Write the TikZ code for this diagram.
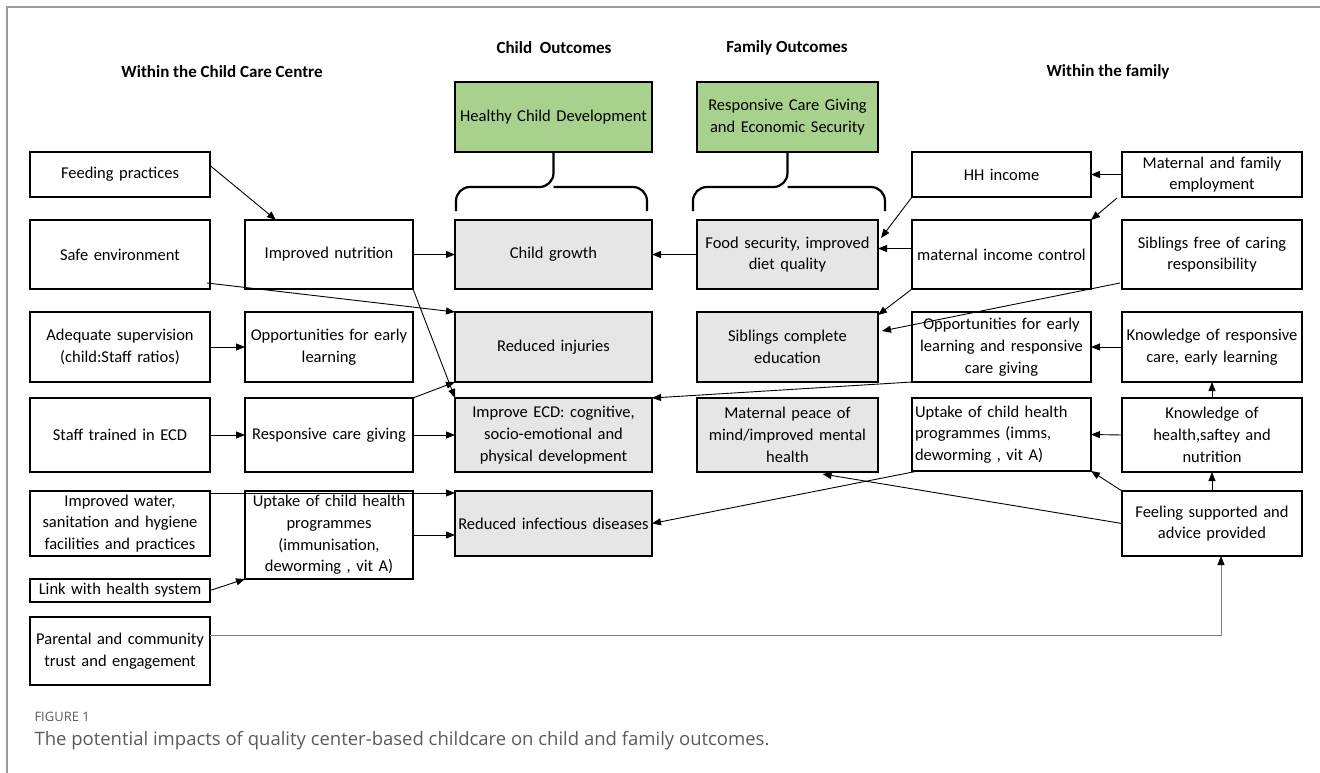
\documentclass[tikz,border=0pt]{standalone}
\usepackage{fontspec}
\setmainfont{Carlito}
\newfontfamily\capfont{Open Sans}
\usepackage{tikz}
\usetikzlibrary{
  	positioning,
  	arrows.meta,
  	calc
  }
\definecolor{outgray}{HTML}{E7E6E6}
\definecolor{outgreen}{HTML}{A9D18E}
\definecolor{framegray}{HTML}{9A9A9A}
\definecolor{linegray}{HTML}{808080}
\definecolor{capgray}{HTML}{5A5A5A}

\begin{document}
\begin{tikzpicture}[x=1pt, y=-1pt,
	box/.style={draw, line width=1.4pt, outer sep=0pt, inner xsep=3pt, inner ysep=1pt, align=center, font=\fontsize{16.5}{21.7}\selectfont},
	wA/.style={box, text width=174pt},
	wB/.style={box, text width=162pt},
	wC/.style={box, text width=191pt, fill=outgray},
	wD/.style={box, text width=175pt, fill=outgray},
	wE/.style={box, text width=173pt},
	wF/.style={box, text width=174pt},
	goal/.style={fill=outgreen},
	head/.style={font=\fontsize{17}{20}\selectfont\bfseries},
	link/.style={-{Triangle[length=9pt,width=7pt]}, line width=0.9pt},
	brace/.style={line width=2.2pt, rounded corners=14pt}]
	\useasboundingbox (0,0) rectangle (1320,773);
	\draw[framegray, line width=1.5pt] (7,773) -- (7,7) -- (1320,7);
%
	\node[head] (Hcentre) at (222,72) {Within the Child Care Centre};
	\node[head] (Hchild) at (554,48) {Child\ \ Outcomes};
	\node[head] (Hfamily) at (787,48) {Family Outcomes};
	\node[head] (Hhome) at (1108,72) {Within the family};
%
	\node[wA, minimum height=69pt] (A2) at (120,254.5) {Safe environment};
	\node[wA, minimum height=45pt, above=23pt of A2] (A1) {Feeding practices};
	\node[wA, minimum height=70pt, below=23pt of A2] (A3) {Adequate supervision\\(child:Staff ratios)};
	\node[wA, minimum height=74pt, below=16pt of A3] (A4) {Staff trained in ECD};
	\node[wA, minimum height=65pt, below=19pt of A4] (A5) {Improved water,\\sanitation and hygiene\\facilities and practices};
	\node[wA, minimum height=23pt, below=23pt of A5] (A6) {Link with health system};
	\node[wA, minimum height=68pt, below=15pt of A6] (A7) {Parental and community\\trust and engagement};
%
	\node[wB, minimum height=69pt, right=35pt of A2] (B1) {Improved nutrition};
	\node[wB, minimum height=70pt, below=23pt of B1] (B2) {Opportunities for early\\learning};
	\node[wB, minimum height=74pt, below=16pt of B2] (B3) {Responsive care giving};
	\node[wB, minimum height=88pt, below=19pt of B3] (B4) {Uptake of child health\\programmes\\(immunisation,\\deworming , vit A)};
%
	\node[wC, minimum height=69pt, right=42pt of B1] (C1) {Child growth};
	\node[wC, minimum height=70pt, below=23pt of C1] (C2) {Reduced injuries};
	\node[wC, minimum height=74pt, below=16pt of C2] (C3) {Improve ECD: cognitive,\\socio-emotional and\\physical development};
	\node[wC, minimum height=65pt, below=19pt of C3] (C4) {Reduced infectious diseases};
	\node[wC, goal, minimum height=70pt, above=68pt of C1] (G1) {Healthy Child Development};
%
	\node[wD, minimum height=69pt, right=45pt of C1] (D1) {Food security, improved\\diet quality};
	\node[wD, minimum height=70pt, below=23pt of D1] (D2) {Siblings complete\\education};
	\node[wD, minimum height=74pt, below=16pt of D2] (D3) {Maternal peace of\\mind/improved mental\\health};
	\node[wD, goal, minimum height=70pt, above=68pt of D1] (G2) {Responsive Care Giving\\and Economic Security};
%
	\node[wE, minimum height=69pt, right=34pt of D1] (E2) {maternal income control};
	\node[wE, minimum height=45pt, above=23pt of E2] (E1) {HH income};
	\node[wE, minimum height=70pt, below=23pt of E2] (E3) {Opportunities for early\\learning and responsive\\care giving};
	\node[wE, align=left, minimum height=73pt, below=16pt of E3] (E4) {Uptake of child health\\programmes (imms,\\deworming , vit A)};
%
	\node[wF, minimum height=69pt, right=31pt of E2] (F2) {Siblings free of caring\\responsibility};
	\node[wF, minimum height=45pt, above=23pt of F2] (F1) {Maternal and family\\employment};
	\node[wF, minimum height=70pt, below=23pt of F2] (F3) {Knowledge of responsive\\care, early learning};
	\node[wF, minimum height=74pt, below=16pt of F3] (F4) {Knowledge of\\health,saftey and\\nutrition};
	\node[wF, minimum height=65pt, below=19pt of F4] (F5) {Feeling supported and\\advice provided};
%
	\coordinate (b1) at ($(G1.south)+(0,35)$);
	\coordinate (b2) at ($(G2.south)+(0,35)$);
	\draw[brace] ($(C1.north west)+(1,-9)$) |- (b1) -- (G1.south);
	\draw[brace] ($(C1.north east)+(-5,-9)$) |- (b1);
	\draw[brace] ($(D1.north west)+(-4,-9)$) |- (b2) -- (G2.south);
	\draw[brace] ($(D1.north east)+(7,-9)$) |- (b2);
%
	\draw[link] ($(A1.east)+(0,-9)$) -- ($(B1.north)+(-53,0)$);
	\draw[link] (B1.east) -- (C1.west);
	\draw[link] ($(A2.south east)+(-3,-6)$) -- (C2.north west);
	\draw[link] (B1.south east) -- (C3.north west);
	\draw[link] (A3.east) -- (B2.west);
	\draw[link] (A4.east) -- (B3.west);
	\draw[link] (B3.east) -- (C3.west);
	\draw[link] (B3.north east) -- (C2.south west);
	\draw[link] ($(A5.north east)+(0,2)$) -- ($(C4.north west)+(0,2)$);
	\draw[link] (B4.east) -- (B4.east -| C4.west);
	\draw[link] (A6.east) -- (B4.south west);
	\draw[-{Triangle[length=9pt,width=7pt,black]}, line width=0.9pt, linegray] ($(A7.east)+(0,-16)$) -| ($(F5.south)+(9,0)$);
%
	\draw[link] (F1.west) -- (E1.east);
	\draw[link] ($(F1.south west)+(-5,1)$) -- (E2.north east);
	\draw[link] (E1.south west) -- ($(D1.north east)+(3,18)$);
	\draw[link] ($(E2.west)+(0,-6)$) -- ($(D1.east)+(0,-6)$);
	\draw[link] (D1.west) -- (C1.east);
	\draw[link] (E2.south west) -- ($(D2.north east)+(0,3)$);
	\draw[link] ($(F2.south west)+(-2,-6)$) -- ($(D2.east)+(4,-16)$);
	\draw[link] (F3.west) -- (E3.east);
	\draw[link] (E3.south west) -- (C3.north east);
	\draw[link] (F4.west) -- (E4.east);
	\draw[link] (F4.north) -- (F3.south);
	\draw[link] (F5.north) -- (F4.south);
	\draw[link] (F5.north west) -- (E4.south east);
	\draw[link] (F5.west) -- ($(D3.south)+(35,2)$);
	\draw[link] ($(E4.south west)+(6,0)$) -- (C4.east);
%
	\node[anchor=west, text=capgray, font=\capfont\fontsize{13}{15}\selectfont] (fig) at (31,717) {FIGURE 1};
	\node[anchor=west, text=capgray, font=\capfont\fontsize{18.5}{21}\selectfont] (cap) at (31,741) {The potential impacts of quality center-based childcare on child and family outcomes.};
\end{tikzpicture}
\end{document}
